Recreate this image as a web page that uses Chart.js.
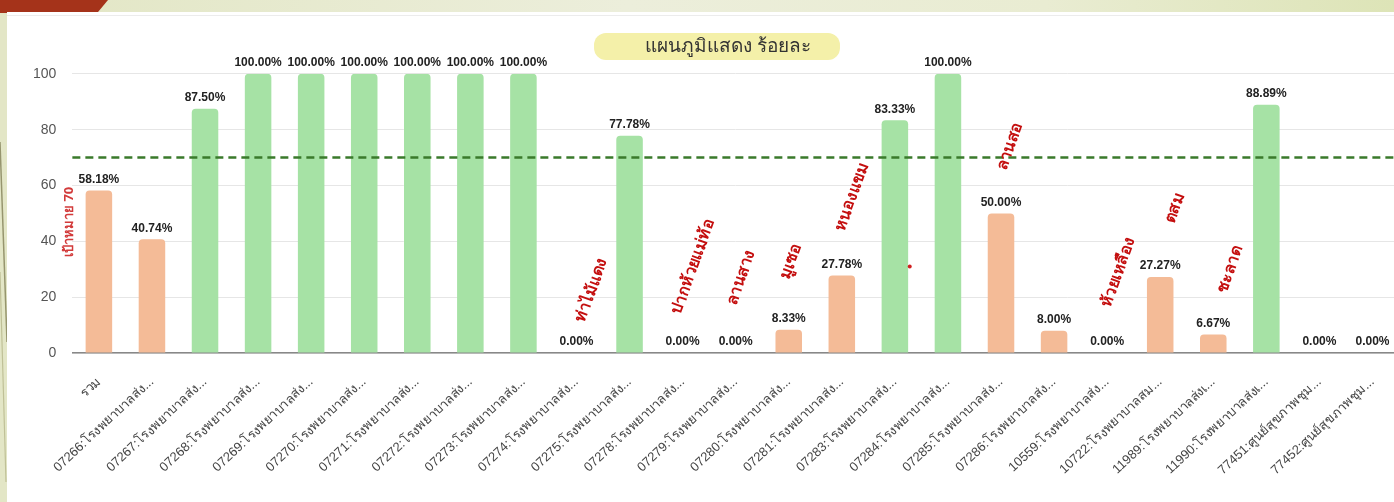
<!DOCTYPE html>
<html>
<head>
<meta charset="utf-8">
<title>แผนภูมิแสดง ร้อยละ</title>
<script src="https://cdn.jsdelivr.net/npm/chart.js@4.4.1/dist/chart.umd.min.js"></script>
<style>
  html, body { margin: 0; padding: 0; overflow: hidden; }
  body { width: 1394px; height: 502px; background: #e3e6c6; position: relative; }
  .band { position: absolute; left: 0; top: 0; width: 1394px; height: 12px;
          background: linear-gradient(90deg, #e2e6c4 0%, #eceedb 45%, #e9ecd2 75%, #dde4b7 100%); }
  .corner { position: absolute; left: 0; top: 0; width: 108px; height: 13px; background: #a5331a;
            clip-path: polygon(0 0, 100% 0, 90% 100%, 0 100%); }
  .strip { position: absolute; left: 0; top: 12px; }
  .card { position: absolute; left: 7px; top: 12px; width: 1416px; height: 490px; background: #fff; }
  .rule { position: absolute; left: 7px; top: 15px; width: 1387px; height: 1px; background: #ececec; }
</style>
</head>
<body>
<div class="band"></div>
<div class="corner"></div>
<svg class="strip" width="7" height="490">
  <line x1="0" y1="130" x2="7" y2="330" stroke="#76744a" stroke-width="1.5" opacity="0.7"/>
  <line x1="0" y1="260" x2="6" y2="470" stroke="#a8a878" stroke-width="1.2" opacity="0.6"/>
</svg>
<div class="card"><canvas id="percentChart"></canvas></div>
<div class="rule"></div>
<script>
// Percentage per health unit, target line at 70
const categories = [
    'รวม',
    '07266:โรงพยาบาลส่ง...', '07267:โรงพยาบาลส่ง...', '07268:โรงพยาบาลส่ง...',
    '07269:โรงพยาบาลส่ง...', '07270:โรงพยาบาลส่ง...', '07271:โรงพยาบาลส่ง...',
    '07272:โรงพยาบาลส่ง...', '07273:โรงพยาบาลส่ง...', '07274:โรงพยาบาลส่ง...',
    '07275:โรงพยาบาลส่ง...', '07278:โรงพยาบาลส่ง...', '07279:โรงพยาบาลส่ง...',
    '07280:โรงพยาบาลส่ง...', '07281:โรงพยาบาลส่ง...', '07283:โรงพยาบาลส่ง...',
    '07284:โรงพยาบาลส่ง...', '07285:โรงพยาบาลส่ง...', '07286:โรงพยาบาลส่ง...',
    '10559:โรงพยาบาลส่ง...', '10722:โรงพยาบาลสม...', '11989:โรงพยาบาลส่งเ...',
    '11990:โรงพยาบาลส่งเ...', '77451:ศูนย์สุขภาพชุม...', '77452:ศูนย์สุขภาพชุม...'
];
const percents = [
    58.18, 40.74, 87.50, 100, 100, 100, 100, 100, 100, 0.00, 77.78, 0.00, 0.00,
    8.33, 27.78, 83.33, 100, 50.00, 8.00, 0.00, 27.27, 6.67, 88.89, 0.00, 0.00
];
const yTicks = [0, 20, 40, 60, 80, 100];
const target = 70;
const chartTitle = 'แผนภูมิแสดง ร้อยละ';

// village names written over the chart (category position, level)
const villageNames = ['ท่าไม้แดง', 'ปากห้วยแม่ท้อ', 'ลานสาง', 'มูเซอ', 'หนองแขม', 'ลานสอ', 'ห้วยเหลือง', 'ตสม', 'ชะลาด'];
const villageAt = [9.28, 11.2, 12.1, 13.04, 14.19, 17.17, 19.21, 20.28, 21.32];
const villageLevel = [22.5, 31, 27, 33, 56, 74, 29, 52, 30];
const dotAt = [15.28];
const dotLevel = [31];

const GREEN = 'rgb(166, 226, 165)';
const ORANGE = 'rgb(244, 187, 151)';

// yellow pill with the heading, drawn into the space the title block reserves
const titlePill = {
    id: 'titlePill',
    beforeDraw(chart) {
        const ctx = chart.ctx;
        const tb = chart.titleBlock;
        const opts = chart.options.plugins.title;
        const font = Chart.helpers.toFont(opts.font);
        const cx = chart.width / 2;
        const cy = tb.top + opts.padding.top + font.lineHeight / 2;
        ctx.save();
        ctx.font = font.string;
        const w = ctx.measureText(chartTitle).width + 80;
        ctx.fillStyle = '#f4f0a9';
        ctx.beginPath();
        ctx.roundRect(cx + 2 - w / 2, cy - 13.5, w, 27, 12);
        ctx.fill();
        ctx.fillStyle = '#333';
        ctx.textAlign = 'center';
        ctx.textBaseline = 'middle';
        ctx.fillText(chartTitle, cx + 13, cy);
        ctx.restore();
    }
};

const overlay = {
    id: 'overlay',
    afterDatasetsDraw(chart) {
        const ctx = chart.ctx;
        const x = chart.scales.x, y = chart.scales.y;
        const area = chart.chartArea;
        ctx.save();

        // target line
        const ty = y.getPixelForValue(target);
        ctx.strokeStyle = '#3a7a2b';
        ctx.lineWidth = 2.5;
        ctx.setLineDash([8, 5]);
        ctx.beginPath();
        ctx.moveTo(area.left, ty);
        ctx.lineTo(area.right, ty);
        ctx.stroke();
        ctx.setLineDash([]);

        // value labels
        ctx.fillStyle = '#222';
        ctx.font = 'bold 12px "Liberation Sans", Arial, sans-serif';
        ctx.textAlign = 'center';
        ctx.textBaseline = 'bottom';
        chart.getDatasetMeta(0).data.forEach((bar, i) => {
            ctx.fillText(percents[i].toFixed(2) + '%', bar.x, bar.y - 5);
        });

        // target caption beside the y axis
        ctx.fillStyle = '#d23a3a';
        ctx.font = 'bold 13px "Noto Sans", "Liberation Sans", sans-serif';
        ctx.textBaseline = 'middle';
        ctx.save();
        ctx.translate(area.left - 3, y.getPixelForValue(47));
        ctx.rotate(-Math.PI / 2);
        ctx.fillText('เป้าหมาย ' + target, 0, 0);
        ctx.restore();

        // village names
        ctx.fillStyle = '#c40f0f';
        ctx.font = 'bold 16px "Noto Sans", "Liberation Sans", sans-serif';
        villageNames.forEach((name, i) => {
            ctx.save();
            ctx.translate(x.getPixelForValue(villageAt[i]), y.getPixelForValue(villageLevel[i]));
            ctx.rotate(-70 * Math.PI / 180);
            ctx.fillText(name, 0, 0);
            ctx.restore();
        });

        ctx.fillStyle = '#d02020';
        dotAt.forEach((v, i) => {
            ctx.beginPath();
            ctx.arc(x.getPixelForValue(v), y.getPixelForValue(dotLevel[i]), 2, 0, Math.PI * 2);
            ctx.fill();
        });
        ctx.restore();
    }
};

new Chart(document.getElementById('percentChart'), {
    type: 'bar',
    data: {
        labels: categories,
        datasets: [{
            data: percents,
            backgroundColor: percents.map(v => v >= target ? GREEN : ORANGE),
            borderRadius: 4,
            borderSkipped: 'start',
            categoryPercentage: 1,
            barPercentage: 0.5
        }]
    },
    options: {
        responsive: true,
        maintainAspectRatio: false,
        animation: false,
        layout: { padding: { left: 10, right: 24, top: 0, bottom: 11 } },
        plugins: {
            legend: { display: false },
            tooltip: { enabled: false },
            title: {
                // text is painted by titlePill; this only reserves the space
                display: true,
                text: chartTitle,
                color: 'rgba(0,0,0,0)',
                font: { size: 19, family: '"Noto Sans", sans-serif', weight: 'normal' },
                padding: { top: 23, bottom: 16 }
            }
        },
        scales: {
            x: {
                grid: { display: false },
                border: { color: '#888', width: 1.5 },
                ticks: {
                    color: '#444',
                    font: { size: 13, family: '"Liberation Sans", Arial, sans-serif' },
                    minRotation: 43,
                    maxRotation: 43,
                    autoSkip: false,
                    padding: 13
                }
            },
            y: {
                min: 0,
                max: 100,
                afterBuildTicks(scale) {
                    scale.ticks = yTicks.map(v => ({ value: v }));
                },
                grid: { color: '#e6e6e6', drawTicks: false },
                border: { display: false },
                ticks: {
                    color: '#555',
                    font: { size: 14, family: '"Liberation Sans", Arial, sans-serif' },
                    padding: 16
                }
            }
        }
    },
    plugins: [titlePill, overlay]
});
</script>
</body>
</html>
